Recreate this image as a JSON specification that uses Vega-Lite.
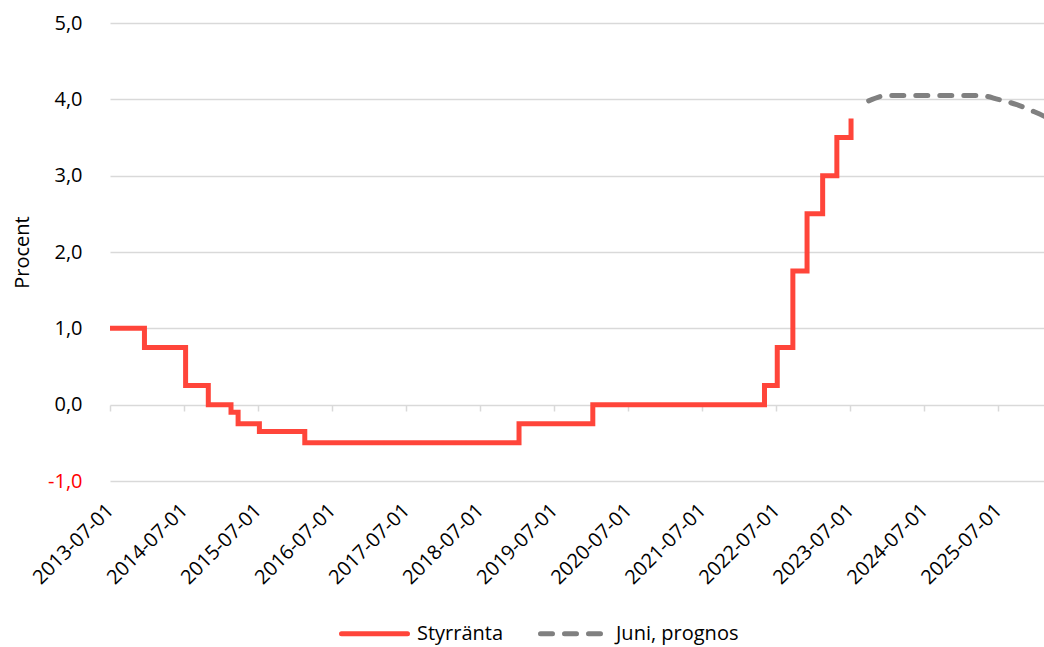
{
  "$schema": "https://vega.github.io/schema/vega-lite/v6.json",
  "width": 934,
  "height": 458,
  "autosize": {"type": "none"},
  "padding": {"left": 110, "top": 23, "right": 0, "bottom": 166},
  "background": "white",
  "config": {
    "font": "Open Sans",
    "view": {"stroke": null},
    "axis": {"labelFont": "Open Sans", "titleFont": "Open Sans"}
  },
  "data": {
    "values": [
      {"series": "Styrränta", "date": "2013-07-01", "value": 1.0},
      {"series": "Styrränta", "date": "2013-12-18", "value": 0.75},
      {"series": "Styrränta", "date": "2014-07-09", "value": 0.25},
      {"series": "Styrränta", "date": "2014-10-29", "value": 0.0},
      {"series": "Styrränta", "date": "2015-02-18", "value": -0.1},
      {"series": "Styrränta", "date": "2015-03-25", "value": -0.25},
      {"series": "Styrränta", "date": "2015-07-08", "value": -0.35},
      {"series": "Styrränta", "date": "2016-02-17", "value": -0.5},
      {"series": "Styrränta", "date": "2019-01-09", "value": -0.25},
      {"series": "Styrränta", "date": "2020-01-08", "value": 0.0},
      {"series": "Styrränta", "date": "2022-05-04", "value": 0.25},
      {"series": "Styrränta", "date": "2022-07-06", "value": 0.75},
      {"series": "Styrränta", "date": "2022-09-21", "value": 1.75},
      {"series": "Styrränta", "date": "2022-11-30", "value": 2.5},
      {"series": "Styrränta", "date": "2023-02-15", "value": 3.0},
      {"series": "Styrränta", "date": "2023-04-26", "value": 3.5},
      {"series": "Styrränta", "date": "2023-07-05", "value": 3.75},
      {"series": "Juni, prognos", "date": "2023-09-30", "value": 3.98},
      {"series": "Juni, prognos", "date": "2023-12-31", "value": 4.05},
      {"series": "Juni, prognos", "date": "2024-03-31", "value": 4.05},
      {"series": "Juni, prognos", "date": "2024-06-30", "value": 4.05},
      {"series": "Juni, prognos", "date": "2024-09-30", "value": 4.05},
      {"series": "Juni, prognos", "date": "2024-12-31", "value": 4.05},
      {"series": "Juni, prognos", "date": "2025-03-31", "value": 4.05},
      {"series": "Juni, prognos", "date": "2025-06-30", "value": 4.0},
      {"series": "Juni, prognos", "date": "2025-09-30", "value": 3.93},
      {"series": "Juni, prognos", "date": "2025-12-31", "value": 3.83},
      {"series": "Juni, prognos", "date": "2026-03-31", "value": 3.72}
    ]
  },
  "encoding": {
    "y": {
      "field": "value",
      "type": "quantitative",
      "scale": {"domain": [-1, 5], "nice": false, "zero": false},
      "axis": {
        "values": [-1, 0, 1, 2, 3, 4, 5],
        "labelExpr": "replace(replace(format(datum.value, '.1f'), '.', ','), '\u2212', '-')",
        "labelColor": {"condition": {"test": "datum.value < 0", "value": "#FF0000"}, "value": "#000000"},
        "labelFontSize": 20,
        "labelPadding": 28,
        "grid": true,
        "gridColor": "#D9D9D9",
        "gridWidth": 1.5,
        "domain": false,
        "ticks": false,
        "title": "Procent",
        "titleFontSize": 20,
        "titleFontWeight": "normal",
        "titleColor": "#000000",
        "titlePadding": 15
      }
    },
    "color": {
      "field": "series",
      "type": "nominal",
      "scale": {"domain": ["Styrränta", "Juni, prognos"], "range": ["#FF453A", "#808080"]},
      "legend": {
        "title": null,
        "orient": "none",
        "legendX": 229,
        "legendY": 575,
        "direction": "horizontal",
        "symbolType": "stroke",
        "symbolSize": 4356,
        "symbolStrokeWidth": 5,
        "labelFontSize": 20,
        "labelColor": "#000000",
        "labelOffset": 7,
        "columnPadding": 26,
        "padding": 0,
        "encode": {"symbols": {"update": {"strokeCap": {"value": "round"}}}}
      }
    },
    "strokeDash": {
      "field": "series",
      "type": "nominal",
      "scale": {"domain": ["Styrränta", "Juni, prognos"], "range": [[1, 0], [12, 12]]},
      "legend": {
        "title": null,
        "orient": "none",
        "legendX": 229,
        "legendY": 575,
        "direction": "horizontal",
        "symbolType": "stroke",
        "symbolSize": 4356,
        "symbolStrokeWidth": 5,
        "labelFontSize": 20,
        "labelColor": "#000000",
        "labelOffset": 7,
        "columnPadding": 26,
        "padding": 0,
        "encode": {"symbols": {"update": {"strokeCap": {"value": "round"}}}}
      }
    }
  },
  "layer": [
    {
      "transform": [{"filter": "datum.series === 'Styrränta'"}],
      "mark": {"type": "line", "interpolate": "step-after", "strokeWidth": 5, "clip": true},
      "encoding": {
        "x": {
          "field": "date",
          "type": "temporal",
          "scale": {"type": "utc", "domain": [{"year": 2013, "month": 7, "date": 1, "utc": true}, {"year": 2026, "month": 2, "date": 11, "utc": true}]},
          "axis": {
            "values": [
              {"year": 2013, "month": 7, "date": 1, "utc": true},
              {"year": 2014, "month": 7, "date": 1, "utc": true},
              {"year": 2015, "month": 7, "date": 1, "utc": true},
              {"year": 2016, "month": 7, "date": 1, "utc": true},
              {"year": 2017, "month": 7, "date": 1, "utc": true},
              {"year": 2018, "month": 7, "date": 1, "utc": true},
              {"year": 2019, "month": 7, "date": 1, "utc": true},
              {"year": 2020, "month": 7, "date": 1, "utc": true},
              {"year": 2021, "month": 7, "date": 1, "utc": true},
              {"year": 2022, "month": 7, "date": 1, "utc": true},
              {"year": 2023, "month": 7, "date": 1, "utc": true},
              {"year": 2024, "month": 7, "date": 1, "utc": true},
              {"year": 2025, "month": 7, "date": 1, "utc": true}
            ],
            "format": "%Y-%m-%d",
            "labelAngle": -45,
            "labelAlign": "right",
            "labelBaseline": "middle",
            "labelFontSize": 20,
            "labelColor": "#000000",
            "labelPadding": 26,
            "labelOverlap": false,
            "labelFlush": false,
            "labelBound": false,
            "ticks": false,
            "domain": false,
            "grid": false,
            "title": null
          }
        }
      }
    },
    {
      "transform": [{"filter": "datum.series === 'Juni, prognos'"}],
      "mark": {"type": "line", "interpolate": "monotone", "strokeWidth": 5, "strokeCap": "round", "clip": true},
      "encoding": {
        "x": {
          "field": "date",
          "type": "temporal",
          "axis": {
            "orient": "bottom",
            "offset": -76,
            "values": [
              {"year": 2013, "month": 7, "date": 1, "utc": true},
              {"year": 2014, "month": 7, "date": 1, "utc": true},
              {"year": 2015, "month": 7, "date": 1, "utc": true},
              {"year": 2016, "month": 7, "date": 1, "utc": true},
              {"year": 2017, "month": 7, "date": 1, "utc": true},
              {"year": 2018, "month": 7, "date": 1, "utc": true},
              {"year": 2019, "month": 7, "date": 1, "utc": true},
              {"year": 2020, "month": 7, "date": 1, "utc": true},
              {"year": 2021, "month": 7, "date": 1, "utc": true},
              {"year": 2022, "month": 7, "date": 1, "utc": true},
              {"year": 2023, "month": 7, "date": 1, "utc": true},
              {"year": 2024, "month": 7, "date": 1, "utc": true},
              {"year": 2025, "month": 7, "date": 1, "utc": true}
            ],
            "labels": false,
            "ticks": true,
            "tickSize": 6,
            "tickColor": "#D9D9D9",
            "tickWidth": 1.5,
            "domain": false,
            "grid": false,
            "title": null
          }
        }
      }
    }
  ],
  "resolve": {"axis": {"x": "independent"}}
}
